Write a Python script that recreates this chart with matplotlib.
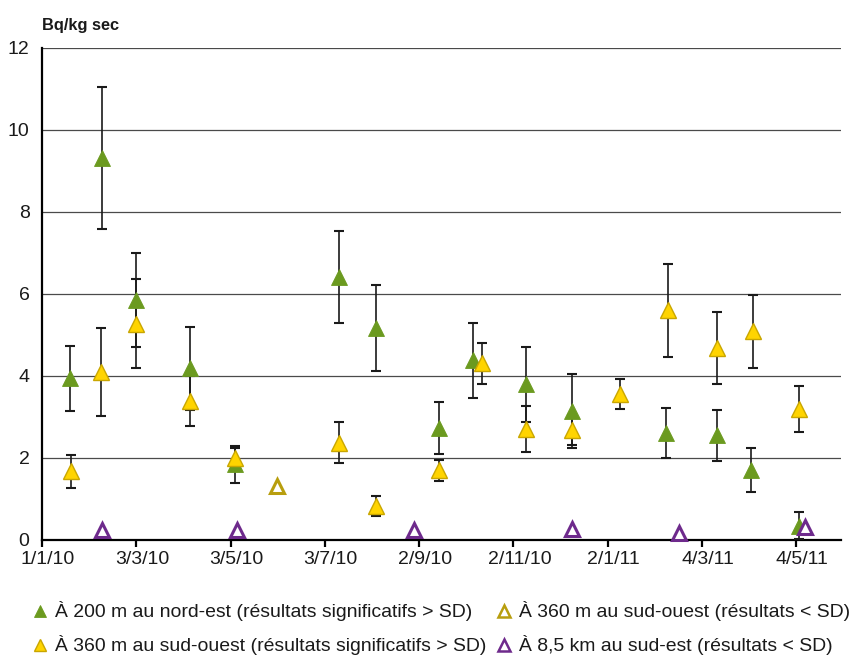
import matplotlib
matplotlib.use("Agg")
import matplotlib.pyplot as plt
import matplotlib.dates as mdates
from matplotlib.transforms import ScaledTranslation
from matplotlib.lines import Line2D
import numpy as np

plt.rcParams['font.family'] = ['Liberation Sans', 'DejaVu Sans']

# ---- data ----
green_dates = ['2010-01-19', '2010-02-09', '2010-03-03', '2010-04-07', '2010-05-06',
               '2010-07-12', '2010-08-05', '2010-09-15', '2010-10-07', '2010-11-10',
               '2010-12-10', '2011-02-09', '2011-03-14', '2011-04-05', '2011-05-06']
green_vals = [3.94, 9.32, 5.85, 4.19, 1.85, 6.42, 5.18, 2.73, 4.38, 3.80, 3.15, 2.61, 2.55, 1.71, 0.35]
green_err = [0.79, 1.73, 1.15, 1.01, 0.45, 1.12, 1.05, 0.64, 0.91, 0.91, 0.90, 0.62, 0.62, 0.54, 0.33]

yellow_dates = ['2010-01-20', '2010-02-08', '2010-03-03', '2010-04-07', '2010-05-06',
                '2010-07-12', '2010-08-05', '2010-09-15', '2010-10-13', '2010-11-10',
                '2010-12-10', '2011-01-10', '2011-02-10', '2011-03-14', '2011-04-06',
                '2011-05-06']
yellow_vals = [1.68, 4.10, 5.28, 3.39, 2.00, 2.37, 0.83, 1.70, 4.31, 2.71, 2.68, 3.56, 5.60, 4.68, 5.09, 3.20]
yellow_err = [0.40, 1.07, 1.08, 0.61, 0.25, 0.50, 0.24, 0.25, 0.50, 0.56, 0.37, 0.37, 1.14, 0.88, 0.89, 0.56]

olive_dates = ['2010-06-02']
olive_vals = [1.32]

purple_dates = ['2010-02-09', '2010-05-07', '2010-08-30', '2010-12-10', '2011-02-17', '2011-05-10']
purple_vals = [0.24, 0.24, 0.24, 0.28, 0.17, 0.32]

tick_dates = ['2010-01-01', '2010-03-03', '2010-05-03', '2010-07-03', '2010-09-02',
              '2010-11-02', '2011-01-02', '2011-03-04', '2011-05-04']
tick_labels = ['1/1/10', '3/3/10', '3/5/10', '3/7/10', '2/9/10', '2/11/10', '2/1/11', '4/3/11', '4/5/11']

y_ticks = [0, 2, 4, 6, 8, 10, 12]

legend_labels = ['À 200 m au nord-est (résultats significatifs > SD)',
                 'À 360 m au sud-ouest (résultats significatifs > SD)',
                 'À 360 m au sud-ouest (résultats < SD)',
                 'À 8,5 km au sud-est (résultats < SD)']

# ---- colours ----
C_GREEN = '#6B9A1F'
C_YELLOW = '#FFD400'
C_YELLOW_EDGE = '#C9A600'
C_OLIVE = '#B89E0E'
C_PURPLE = '#6E2A8C'

def d(lst):
    return mdates.datestr2num(lst)

W, H = 865, 657
fig = plt.figure(figsize=(W / 100, H / 100), dpi=100)
ax = fig.add_axes([42 / W, 1 - 540 / H, (841 - 42) / W, (540 - 48) / H])

eb_kw = dict(fmt='none', ecolor='#1a1a1a', elinewidth=1.2, capsize=3.6, capthick=1.5, zorder=3)
ax.errorbar(d(green_dates), green_vals, yerr=green_err, **eb_kw)
ax.errorbar(d(yellow_dates), yellow_vals, yerr=yellow_err, **eb_kw)

ax.plot(d(green_dates), green_vals, linestyle='none', marker='^', ms=12,
        mfc=C_GREEN, mec=C_GREEN, mew=0.6, zorder=4, clip_on=False)
ax.plot(d(yellow_dates), yellow_vals, linestyle='none', marker='^', ms=12,
        mfc=C_YELLOW, mec=C_YELLOW_EDGE, mew=1.0, zorder=5, clip_on=False)
ax.plot(d(olive_dates), olive_vals, linestyle='none', marker='^', ms=10.5,
        mfc='white', mec=C_OLIVE, mew=2.2, zorder=5, clip_on=False)
ax.plot(d(purple_dates), purple_vals, linestyle='none', marker='^', ms=10.5,
        mfc='white', mec=C_PURPLE, mew=2.2, zorder=6, clip_on=False)

ax.set_ylim(0, 12)
ax.set_xlim(mdates.datestr2num('2010-01-01'), mdates.datestr2num('2011-06-02'))
ax.set_yticks(y_ticks)
ax.set_yticklabels([str(v) for v in y_ticks])
ax.set_xticks(d(tick_dates))
ax.set_xticklabels(tick_labels)

ax.yaxis.grid(True, color='#4a4a4a', linewidth=0.9)
ax.set_axisbelow(True)
for s in ['top', 'right']:
    ax.spines[s].set_visible(False)
for s in ['left', 'bottom']:
    ax.spines[s].set_color('black')
    ax.spines[s].set_linewidth(1.6)

ax.tick_params(axis='y', which='major', length=0, pad=9, labelsize=14, labelcolor='#1a1a1a')
ax.set_yticks([0], minor=True)
ax.tick_params(axis='y', which='minor', length=5, width=1.5, color='black')
ax.tick_params(axis='x', which='major', length=5, width=1.6, color='black', pad=3,
               labelsize=14, labelcolor='#1a1a1a', direction='out')
for lab in ax.get_xticklabels():
    lab.set_transform(lab.get_transform() + ScaledTranslation(6 / 100, 0, fig.dpi_scale_trans))

fig.text(42 / W, 1 - 30 / H, 'Bq/kg sec', fontsize=11.8, fontweight='bold',
         ha='left', va='baseline', color='#1a1a1a')

# ---- legend ----
leg_specs = [
    (40, 611, dict(mfc=C_GREEN, mec=C_GREEN, mew=0.6, ms=9)),
    (40, 645, dict(mfc=C_YELLOW, mec=C_YELLOW_EDGE, mew=1.0, ms=9)),
    (504, 611, dict(mfc='white', mec=C_OLIVE, mew=1.8, ms=8.5)),
    (504, 645, dict(mfc='white', mec=C_PURPLE, mew=1.8, ms=8.5)),
]
for (px, py, kw), lab in zip(leg_specs, legend_labels):
    fig.add_artist(Line2D([px / W], [1 - py / H], linestyle='none', marker='^',
                          transform=fig.transFigure, **kw))
    fig.text((px + 15) / W, 1 - py / H, lab, fontsize=13.95, ha='left', va='center', color='#1a1a1a')

fig.savefig('out.png', dpi=100, facecolor='white')
